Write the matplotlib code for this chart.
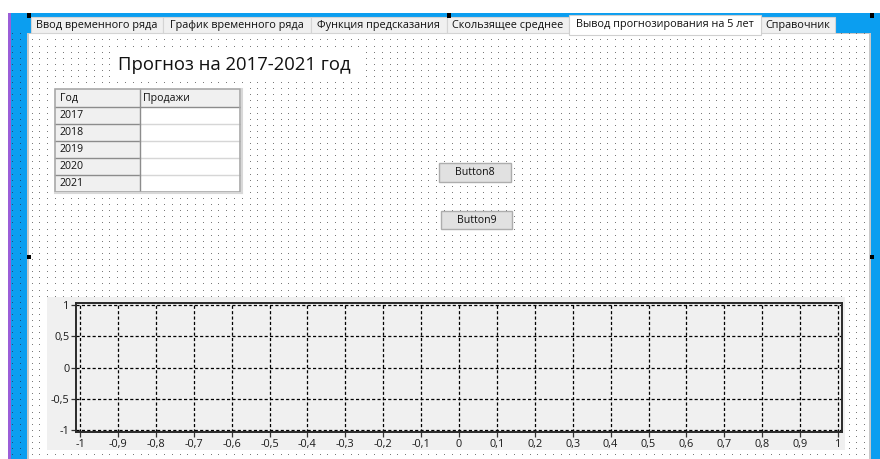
import numpy as np
import matplotlib
matplotlib.use("Agg")
import matplotlib.pyplot as plt
from matplotlib.patches import Rectangle
from matplotlib.ticker import FuncFormatter, FixedLocator

plt.rcParams['font.family'] = ['Open Sans', 'DejaVu Sans']

# ---------------- data ----------------
tab_labels = ["Ввод временного ряда", "График временного ряда", "Функция предсказания",
              "Скользящее среднее", "Вывод прогнозирования на 5 лет", "Справочник"]
active_tab = 4
title_text = "Прогноз на 2017-2021 год"
table_headers = ["Год", "Продажи"]
years = ["2017", "2018", "2019", "2020", "2021"]
sales = ["", "", "", "", ""]
button_labels = ["Button8", "Button9"]
x_ticks = [-1, -0.9, -0.8, -0.7, -0.6, -0.5, -0.4, -0.3, -0.2, -0.1,
           0, 0.1, 0.2, 0.3, 0.4, 0.5, 0.6, 0.7, 0.8, 0.9, 1]
y_ticks = [-1, -0.5, 0, 0.5, 1]

# ---------------- layout (pixels) ----------------
W, H = 880, 459
fig = plt.figure(figsize=(W / 100, H / 100), dpi=100)
bg = fig.add_axes([0, 0, 1, 1])
bg.set_xlim(0, W)
bg.set_ylim(H, 0)
bg.axis('off')

BLUE = '#0b9ef0'
PURPLE = '#9b5ed8'

def rect(x0, y0, x1, y1, fc, ec='none', lw=0, z=1):
    bg.add_patch(Rectangle((x0, y0), x1 - x0, y1 - y0, facecolor=fc,
                           edgecolor=ec, linewidth=lw, zorder=z))

# designer background
rect(8, 13, 11, H, PURPLE, z=1)
rect(11, 13, W, H, BLUE, z=1)
# form page
rect(27, 33, 871, H, '#c9c9c9', z=2)
rect(29, 34, 869, H, 'white', z=2)

# dot grid
xs = np.arange(31.7, 869, 7.78)
ys = np.arange(34.3, H, 6.1)
gx, gy = np.meshgrid(xs, ys)
bg.plot(gx.ravel(), gy.ravel(), ',', color='#7a7a7a', zorder=3)
# dots on the blue strip
xs2 = np.array([12.3, 20.0])
gx2, gy2 = np.meshgrid(xs2, ys)
bg.plot(gx2.ravel(), gy2.ravel(), ',', color='#1a4f80', zorder=3)

# tabs
tab_edges = [31, 163, 311, 446.5, 568.5, 761, 835]
for i, lab in enumerate(tab_labels):
    x0, x1 = tab_edges[i], tab_edges[i + 1]
    if i == active_tab:
        rect(x0, 15, x1, 34.5, 'white', ec='#d0d0d0', lw=0.8, z=5)
        bg.text((x0 + x1) / 2, 24.0, lab, ha='center', va='center', fontsize=7.8,
                color='#111111', zorder=6)
    else:
        rect(x0, 17, x1, 33, '#f0f0f0', ec='#d4d4d4', lw=0.8, z=4)
        bg.text((x0 + x1) / 2, 25.3, lab, ha='center', va='center', fontsize=7.8,
                color='#111111', zorder=6)

# selection handles
for (hx, hy) in [(26.5, 13), (446.5, 13), (869.5, 13), (26.5, 254.5), (869.5, 254.5)]:
    rect(hx, hy, hx + 4.5, hy + 4.5, 'black', z=8)

# title label
rect(113, 50, 360, 80, 'white', z=4)
bg.text(118, 65, title_text, ha='left', va='center', fontsize=13.3,
        color='#111111', zorder=5)

# table
tx0, tcol, tx1 = 55, 139.5, 240
ty0, hh, rh = 88.5, 18, 17
nrows = len(years)
ty1 = ty0 + hh + rh * nrows
rect(tx0 - 1, ty0 - 1, tx1 + 2, ty1 + 2, 'white', z=4)
rect(tx0, ty0, tx1, ty0 + hh, '#f0f0f0', z=5)
rect(tx0, ty0 + hh, tcol, ty1, '#f0f0f0', z=5)
rect(tcol, ty0 + hh, tx1, ty1, 'white', z=5)
for j, h in enumerate(table_headers):
    cx = tx0 + 5 if j == 0 else tcol + 4
    bg.text(cx, ty0 + hh / 2 + 0.5, h, ha='left', va='center', fontsize=7.6,
            color='#111111', zorder=7)
for i, (yr, s) in enumerate(zip(years, sales)):
    yc = ty0 + hh + rh * i + rh / 2 + 0.5
    bg.text(tx0 + 5, yc, yr, ha='left', va='center', fontsize=7.6,
            color='#111111', zorder=7)
    bg.text(tcol + 4, yc, s, ha='left', va='center', fontsize=7.6,
            color='#111111', zorder=7)
    yl = ty0 + hh + rh * (i + 1)
    bg.plot([tx0, tcol], [yl, yl], color='#8c8c8c', lw=1.0, zorder=6)
    bg.plot([tcol, tx1], [yl, yl], color='#d6d6d6', lw=1.0, zorder=6)
bg.plot([tx0, tx1], [ty0 + hh, ty0 + hh], color='#8c8c8c', lw=1.0, zorder=6)
bg.plot([tcol, tcol], [ty0, ty1], color='#8c8c8c', lw=1.0, zorder=6)
bg.add_patch(Rectangle((tx0, ty0), tx1 - tx0, ty1 - ty0, facecolor='none',
                       edgecolor='#a8a8a8', lw=1.2, zorder=6))
bg.plot([tx1 + 1.5, tx1 + 1.5], [ty0, ty1 + 1.5], color='#d8d8d8', lw=1.5, zorder=6)
bg.plot([tx0, tx1 + 1.5], [ty1 + 1.5, ty1 + 1.5], color='#d8d8d8', lw=1.5, zorder=6)

# buttons
btn_boxes = [(439, 163, 511, 181.5), (441, 211, 512, 229)]
for lab, (x0, y0, x1, y1) in zip(button_labels, btn_boxes):
    rect(x0, y0, x1, y1, '#e1e1e1', ec='#adadad', lw=1.0, z=5)
    bg.text((x0 + x1) / 2, (y0 + y1) / 2 + 0.3, lab, ha='center', va='center',
            fontsize=7.6, color='#111111', zorder=6)

# chart panel
rect(47, 297, 845, 449.5, '#f0f0f0', z=4)

# chart axes
fx0, fx1, fy0, fy1 = 76, 842, 303, 432
ax = fig.add_axes([fx0 / W, (H - fy1) / H, (fx1 - fx0) / W, (fy1 - fy0) / H])
ax.set_facecolor('#f0f0f0')
ux = (838 - 80) / 2.0
uy = (430 - 305) / 2.0
ax.set_xlim(-1 - 4 / ux, 1 + 4 / ux)
ax.set_ylim(-1 - 2 / uy, 1 + 2 / uy)
ax.xaxis.set_major_locator(FixedLocator(x_ticks))
ax.yaxis.set_major_locator(FixedLocator(y_ticks))

def fmt(v, pos=None):
    s = ('%.1f' % v).rstrip('0').rstrip('.')
    if s == '-0':
        s = '0'
    return s.replace('.', ',')

ax.xaxis.set_major_formatter(FuncFormatter(fmt))
ax.yaxis.set_major_formatter(FuncFormatter(fmt))
ax.grid(True, color='black', linestyle=(0, (2.5, 1.8)), linewidth=0.9)
for sp in ax.spines.values():
    sp.set_color('#2a2a2a')
    sp.set_linewidth(1.4)
ax.tick_params(axis='both', direction='out', length=3.6, width=0.9,
               color='#333333', labelsize=7.8, labelcolor='#1a1a1a', pad=1)
ax.tick_params(axis='x', pad=1.5)

fig.savefig('out.png', dpi=100)
